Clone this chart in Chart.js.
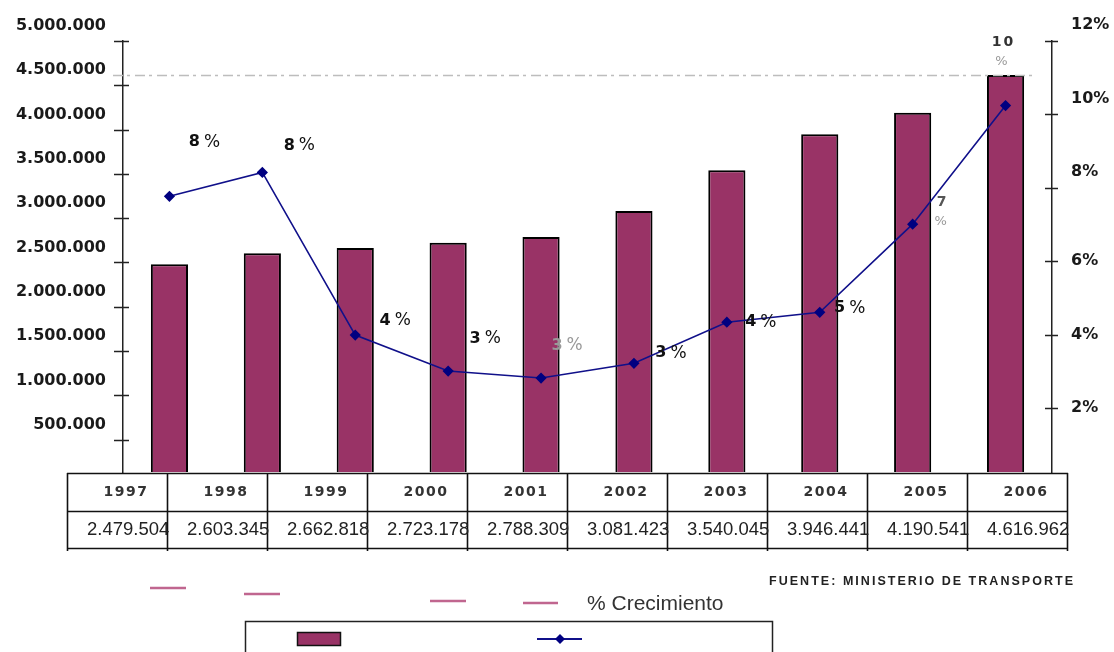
<!DOCTYPE html>
<html lang="es">
<head>
  <meta charset="UTF-8">
  <title>Parque automotor 1997-2006</title>
  <script src="https://cdn.jsdelivr.net/npm/chart.js"></script>
  <style>
    html, body { margin: 0; padding: 0; background: #fff; }
    #wrap { width: 1114px; height: 652px; }
  </style>
</head>
<body>
  <div id="wrap"><canvas id="parqueChart" width="1114" height="652"></canvas></div>

  <script>
    // datos
    const years = ['1997', '1998', '1999', '2000', '2001', '2002', '2003', '2004', '2005', '2006'];
    const vehicles = [2479504, 2603345, 2662818, 2723178, 2788309, 3081423, 3540045, 3946441, 4190541, 4616962];
    const growthPct = [7.77, 8.42, 3.99, 3.01, 2.82, 3.22, 4.34, 4.61, 7.01, 10.24];
    const leftTicks = [500000, 1000000, 1500000, 2000000, 2500000, 3000000, 3500000, 4000000, 4500000, 5000000];
    const rightTicks = [2, 4, 6, 8, 10, 12];
    const seriesName = '% Crecimiento';
    const sourceNote = 'FUENTE: MINISTERIO DE TRANSPORTE';

    // posicion de las etiquetas de % respecto al punto [dx, dy, dos lineas]
    const pctLabelNudge = [[35, -54], [37, -27], [40, -14], [37, -32], [26, -32],
                           [37, -10], [34, 0], [30, -4], [29, -22, true], [-3, -63, true]];
    const pctLabelColor = ['#111', '#111', '#111', '#111', '#999', '#111', '#111', '#111', '#555', '#333'];

    const fmt = n => String(n).replace(/\B(?=(\d{3})+(?!\d))/g, '.');

    // ticks que cruzan el eje
    const crossTicks = {
      id: 'crossTicks',
      afterDraw(chart) {
        const ctx = chart.ctx;
        ctx.save();
        ctx.strokeStyle = '#222';
        ctx.lineWidth = 1.5;
        ctx.beginPath();
        const y = chart.scales.y, y1 = chart.scales.y1;
        y.ticks.forEach(t => {
          const p = Math.round(y.getPixelForValue(t.value)) + 0.5;
          ctx.moveTo(y.right - 9, p); ctx.lineTo(y.right + 6, p);
        });
        y1.ticks.forEach(t => {
          const p = Math.round(y1.getPixelForValue(t.value)) + 0.5;
          ctx.moveTo(y1.left - 7, p); ctx.lineTo(y1.left + 6, p);
        });
        ctx.stroke();
        ctx.restore();
      }
    };

    // linea punteada al nivel del maximo
    const maxLine = {
      id: 'maxLine',
      afterDatasetsDraw(chart) {
        const ctx = chart.ctx;
        const py = Math.round(chart.scales.y.getPixelForValue(Math.max(...vehicles))) + 0.5;
        ctx.save();
        ctx.strokeStyle = '#bdbdbd';
        ctx.lineWidth = 1.3;
        ctx.setLineDash([10, 4, 3, 5]);
        ctx.beginPath();
        ctx.moveTo(113, py);
        ctx.lineTo(1033, py);
        ctx.stroke();
        ctx.restore();
      }
    };

    // etiquetas de porcentaje
    const pctLabels = {
      id: 'pctLabels',
      afterDatasetsDraw(chart) {
        const ctx = chart.ctx;
        const meta = chart.getDatasetMeta(0);
        ctx.save();
        ctx.textBaseline = 'middle';
        meta.data.forEach((pt, i) => {
          const [dx, dy, stacked] = pctLabelNudge[i];
          const num = String(Math.round(growthPct[i]));
          const cx = pt.x + dx, cy = pt.y + dy;
          ctx.fillStyle = pctLabelColor[i];
          if (stacked) {
            ctx.textAlign = 'center';
            ctx.font = 'bold 14px "DejaVu Sans"';
            ctx.letterSpacing = '2px';
            ctx.fillText(num, cx + 1, cy);
            ctx.letterSpacing = '0px';
            ctx.fillStyle = '#999';
            ctx.font = '13px "DejaVu Sans"';
            ctx.fillText('%', cx - 1, cy + 19);
          } else {
            ctx.textAlign = 'left';
            ctx.font = 'bold 16px "DejaVu Sans"';
            const w1 = ctx.measureText(num).width;
            ctx.font = '17px "DejaVu Sans"';
            const w2 = ctx.measureText('%').width;
            const gap = 4;
            const x0 = cx - (w1 + gap + w2) / 2;
            ctx.font = 'bold 16px "DejaVu Sans"';
            ctx.fillText(num, x0, cy);
            ctx.font = '17px "DejaVu Sans"';
            ctx.fillText('%', x0 + w1 + gap, cy);
          }
        });
        ctx.restore();
      }
    };

    // tabla de datos bajo el grafico
    const dataTable = {
      id: 'dataTable',
      afterDraw(chart) {
        const ctx = chart.ctx;
        const left = 67, colW = 100, top = 473, rowH = 37.5;
        const right = left + colW * years.length;
        ctx.save();
        ctx.strokeStyle = '#111';
        ctx.lineWidth = 1.6;
        ctx.beginPath();
        for (let r = 0; r <= 2; r++) {
          const yy = Math.round(top + r * rowH) + 0.5;
          ctx.moveTo(left, yy); ctx.lineTo(right + 1, yy);
        }
        for (let c = 0; c <= years.length; c++) {
          const xx = left + c * colW + 0.5;
          ctx.moveTo(xx, top); ctx.lineTo(xx, top + 2 * rowH + 3);
        }
        ctx.stroke();

        ctx.textBaseline = 'middle';
        ctx.textAlign = 'center';
        ctx.fillStyle = '#333';
        ctx.font = 'bold 14px "DejaVu Sans"';
        ctx.letterSpacing = '1.5px';
        years.forEach((yr, i) => ctx.fillText(yr, left + i * colW + colW / 2 + 9, top + rowH / 2 + 1));
        ctx.letterSpacing = '0px';

        ctx.textAlign = 'left';
        ctx.fillStyle = '#222';
        ctx.font = '18.5px "Liberation Sans"';
        vehicles.forEach((v, i) => ctx.fillText(fmt(v), left + i * colW + 20, top + rowH * 1.5 + 1));
        ctx.restore();
      }
    };

    // zona inferior: leyenda y fuente
    const bottomArea = {
      id: 'bottomArea',
      afterDraw(chart) {
        const ctx = chart.ctx;
        ctx.save();
        // trazos rosados sueltos
        ctx.strokeStyle = '#c0668f';
        ctx.lineWidth = 2.5;
        ctx.beginPath();
        [[150, 186, 588], [244, 280, 594], [430, 466, 601], [523, 558, 603]].forEach(([a, b, yy]) => {
          ctx.moveTo(a, yy); ctx.lineTo(b, yy);
        });
        ctx.stroke();

        ctx.fillStyle = '#333';
        ctx.font = '21px "Liberation Sans"';
        ctx.textBaseline = 'middle';
        ctx.textAlign = 'left';
        ctx.fillText(seriesName, 587, 604);

        ctx.font = 'bold 12.5px "Liberation Sans"';
        const target = 304;
        const natural = ctx.measureText(sourceNote).width;
        ctx.letterSpacing = Math.max(0, (target - natural) / (sourceNote.length - 1)) + 'px';
        ctx.fillStyle = '#222';
        ctx.fillText(sourceNote, 769, 582);
        ctx.letterSpacing = '0px';

        // caja de leyenda
        ctx.strokeStyle = '#222';
        ctx.lineWidth = 1.5;
        ctx.strokeRect(245.5, 621.5, 527, 60);
        ctx.fillStyle = '#993366';
        ctx.fillRect(297, 632, 43, 13);
        ctx.strokeStyle = '#111';
        ctx.strokeRect(297.5, 632.5, 43, 13);
        ctx.strokeStyle = '#10108a';
        ctx.lineWidth = 2;
        ctx.beginPath();
        ctx.moveTo(537, 639); ctx.lineTo(582, 639);
        ctx.stroke();
        ctx.fillStyle = '#000080';
        ctx.beginPath();
        ctx.moveTo(560, 634); ctx.lineTo(565, 639); ctx.lineTo(560, 644); ctx.lineTo(555, 639);
        ctx.closePath();
        ctx.fill();
        ctx.restore();
      }
    };

    const noScalePad = s => { s.paddingTop = 0; s.paddingBottom = 0; };

    const ctxMain = document.getElementById('parqueChart').getContext('2d');
    new Chart(ctxMain, {
      type: 'bar',
      data: {
        labels: years,
        datasets: [
          {
            type: 'line',
            label: seriesName,
            data: growthPct,
            yAxisID: 'y1',
            borderColor: '#10108a',
            backgroundColor: '#000080',
            borderWidth: 1.6,
            pointStyle: 'rectRot',
            pointRadius: 4.5,
            pointBackgroundColor: '#000080',
            pointBorderColor: '#000080',
            tension: 0,
            order: 0
          },
          {
            type: 'bar',
            label: 'Vehiculos',
            data: vehicles,
            yAxisID: 'y',
            backgroundColor: '#993366',
            borderColor: '#000',
            borderWidth: 2,
            barPercentage: 0.4,
            categoryPercentage: 1,
            order: 1
          }
        ]
      },
      options: {
        responsive: false,
        animation: false,
        layout: { padding: { top: 41, bottom: 180, left: 0, right: 0 } },
        scales: {
          x: { display: false, offset: true },
          y: {
            position: 'left',
            min: 135000,
            max: 5000000,
            afterBuildTicks: s => { s.ticks = leftTicks.map(v => ({ value: v })); },
            afterFit: s => { s.width = 123; noScalePad(s); },
            grid: { display: true, drawOnChartArea: false, drawTicks: false },
            border: { display: true, color: '#222', width: 1.5 },
            ticks: {
              padding: 17,
              labelOffset: -15,
              color: '#1a1a1a',
              font: { family: 'DejaVu Sans', weight: 'bold', size: 16 },
              callback: v => fmt(v)
            }
          },
          y1: {
            position: 'right',
            min: 0.26,
            max: 12,
            afterBuildTicks: s => { s.ticks = rightTicks.map(v => ({ value: v })); },
            afterFit: s => { s.width = 62; noScalePad(s); },
            grid: { display: true, drawOnChartArea: false, drawTicks: false },
            border: { display: true, color: '#222', width: 1.5 },
            ticks: {
              padding: 19,
              color: '#1a1a1a',
              font: { family: 'DejaVu Sans', weight: 'bold', size: 16, lineHeight: 2 },
              callback: v => v >= 8 ? [v + '%', ''] : v + '%'
            }
          }
        },
        plugins: {
          legend: { display: false },
          tooltip: { enabled: false }
        }
      },
      plugins: [maxLine, pctLabels, crossTicks, dataTable, bottomArea]
    });
  </script>
</body>
</html>
